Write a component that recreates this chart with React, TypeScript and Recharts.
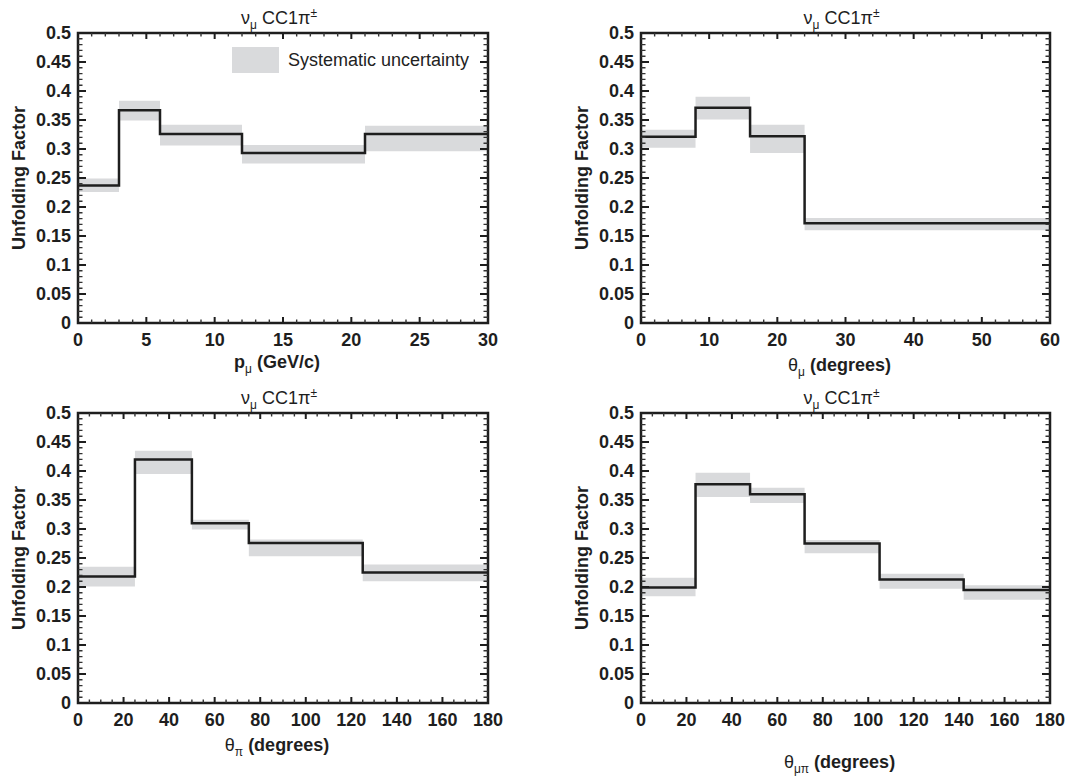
import { ComposedChart, Area, Line, XAxis, YAxis, Legend, ReferenceArea } from 'recharts'

const FONT = '"Liberation Sans", Arial, Helvetica, sans-serif'
const INK = '#1e1e1e'
const BAND = '#d9dadc'

// p_mu (GeV/c)
const pMuEdges = [0, 3, 6, 12, 21, 30]
const pMuFactor = [0.237, 0.367, 0.326, 0.293, 0.326]
const pMuLow = [0.226, 0.349, 0.306, 0.275, 0.296]
const pMuHigh = [0.249, 0.383, 0.342, 0.307, 0.34]
const pMuTicks = [0, 5, 10, 15, 20, 25, 30]

// theta_mu (degrees)
const thMuEdges = [0, 8, 16, 24, 60]
const thMuFactor = [0.321, 0.371, 0.322, 0.172]
const thMuLow = [0.302, 0.351, 0.293, 0.16]
const thMuHigh = [0.333, 0.39, 0.342, 0.181]
const thMuTicks = [0, 10, 20, 30, 40, 50, 60]

// theta_pi (degrees)
const thPiEdges = [0, 25, 50, 75, 125, 180]
const thPiFactor = [0.218, 0.42, 0.31, 0.276, 0.225]
const thPiLow = [0.201, 0.395, 0.299, 0.253, 0.21]
const thPiHigh = [0.235, 0.435, 0.316, 0.282, 0.239]

// theta_mupi (degrees)
const thMuPiEdges = [0, 24, 48, 72, 105, 142, 180]
const thMuPiFactor = [0.199, 0.377, 0.36, 0.275, 0.213, 0.195]
const thMuPiLow = [0.184, 0.355, 0.345, 0.258, 0.197, 0.178]
const thMuPiHigh = [0.216, 0.397, 0.371, 0.281, 0.223, 0.203]

const angleTicks = [0, 20, 40, 60, 80, 100, 120, 140, 160, 180]

const yTicks = [0, 0.05, 0.1, 0.15, 0.2, 0.25, 0.3, 0.35, 0.4, 0.45, 0.5]
const yTickLabels = ['0', '0.05', '0.1', '0.15', '0.2', '0.25', '0.3', '0.35', '0.4', '0.45', '0.5']

const steps = (max: number, step: number) => {
  const out: number[] = []
  for (let i = 0; i * step <= max + 1e-9; i++) out.push(Math.round(i * step * 1000) / 1000)
  return out
}

// inward ROOT-style ticks on both opposite edges: long for labelled values, short in between
const xTick = (majors: number[], labels: string[], plotH: number) => (props: any) => {
  const x = Number(props.x)
  const y = Number(props.y)
  const idx = majors.findIndex((m) => Math.abs(m - props.payload?.value) < 1e-6)
  const major = idx >= 0
  const len = major ? 6 : 3.5
  const yt = y - plotH
  return (
    <g>
      <path
        d={`M${x},${y}L${x},${y - len}M${x},${yt}L${x},${yt + len}`}
        stroke={major ? INK : '#333'}
        strokeWidth={major ? 2 : 1.4}
        fill="none"
      />
      {major && (
        <text x={x} y={y + 23} textAnchor="middle" fontFamily={FONT} fontWeight="bold" fontSize={18} fill={INK}>
          {labels[idx]}
        </text>
      )}
    </g>
  )
}

const yTick = (plotW: number) => (props: any) => {
  const x = Number(props.x)
  const y = Number(props.y)
  const idx = yTicks.findIndex((m) => Math.abs(m - props.payload?.value) < 1e-6)
  const major = idx >= 0
  const len = major ? 8 : 4.5
  const xr = x + plotW
  return (
    <g>
      <path
        d={`M${x},${y}L${x + len},${y}M${xr},${y}L${xr - len},${y}`}
        stroke={major ? INK : '#333'}
        strokeWidth={major ? 2 : 1.4}
        fill="none"
      />
      {major && (
        <text x={x - 7} y={y} textAnchor="end" dominantBaseline="central" fontFamily={FONT} fontWeight="bold" fontSize={18} fill={INK}>
          {yTickLabels[idx]}
        </text>
      )}
    </g>
  )
}

function LegendBox(props: any) {
  const items = (props.payload || []).filter((p: any) => p.type !== 'none')
  return (
    <div>
      {items.map((p: any) => (
        <div key={p.value} style={{ display: 'flex', alignItems: 'center', fontFamily: FONT, fontSize: 18, color: '#222' }}>
          <span style={{ display: 'inline-block', width: 47, height: 26, background: BAND, marginRight: 9 }} />
          {p.value}
        </div>
      ))}
    </div>
  )
}

type PanelProps = {
  left: number
  top: number
  height: number
  margin: { top: number; right: number; bottom: number; left: number }
  edges: number[]
  factor: number[]
  low: number[]
  high: number[]
  xTicks: number[]
  minorStep: number
  xMain: string
  xSub: string
  xMainBold: boolean
  xRest: string
  xLabelDy: number
  legend?: boolean
}

const CHART_W = 546
const X_AXIS_H = 40
const Y_AXIS_W = 60

function Panel(p: PanelProps) {
  const data = p.edges.map((e, i) => {
    const k = Math.min(i, p.factor.length - 1)
    return { x: e, factor: p.factor[k], band: [p.low[k], p.high[k]] }
  })
  const xMax = p.xTicks[p.xTicks.length - 1]
  const xMinor = steps(xMax, p.minorStep)
  const yMinor = steps(0.5, 0.01)
  const xLabels = p.xTicks.map(String)
  const plotH = p.height - p.margin.top - p.margin.bottom - X_AXIS_H
  const plotW = CHART_W - p.margin.left - p.margin.right - Y_AXIS_W

  return (
    <div style={{ position: 'absolute', left: p.left, top: p.top }}>
      <ComposedChart width={CHART_W} height={p.height} data={data} margin={p.margin}>
        <Area
          dataKey="band"
          name="Systematic uncertainty"
          type="stepAfter"
          fill={BAND}
          fillOpacity={1}
          stroke="none"
          isAnimationActive={false}
        />
        <Line
          dataKey="factor"
          type="stepAfter"
          stroke={INK}
          strokeWidth={2.5}
          dot={false}
          activeDot={false}
          legendType="none"
          isAnimationActive={false}
        />
        <ReferenceArea x1={0} x2={xMax} y1={0} y2={0.5} fill="none" stroke={INK} strokeWidth={2.5} />
        <XAxis
          dataKey="x"
          type="number"
          domain={[0, xMax]}
          ticks={xMinor}
          interval={0}
          height={X_AXIS_H}
          tickSize={0}
          tickMargin={0}
          tickLine={false}
          axisLine={false}
          tick={xTick(p.xTicks, xLabels, plotH)}
          label={(lp: any) => {
            const vb = lp.viewBox
            const cx = vb.x + vb.width / 2 - 6
            const cy = vb.y + p.xLabelDy
            const tx = vb.x + vb.width / 2 - 4
            const ty = vb.y - plotH - 9
            return (
              <g>
                <text x={cx} y={cy} textAnchor="middle" fontFamily={FONT} fontSize={18} fill={INK}>
                  <tspan fontWeight={p.xMainBold ? 'bold' : 'normal'}>{p.xMain}</tspan>
                  <tspan dy={5} fontSize={12}>{p.xSub}</tspan>
                  <tspan dy={-5} fontWeight="bold">{p.xRest}</tspan>
                </text>
                <text x={tx} y={ty} textAnchor="middle" fontFamily={FONT} fontSize={18} fill={INK}>
                  <tspan>ν</tspan>
                  <tspan dy={5} fontSize={12}>μ</tspan>
                  <tspan dy={-5}> CC1π</tspan>
                  <tspan dy={-7} fontSize={12}>±</tspan>
                </text>
              </g>
            )
          }}
        />
        <YAxis
          type="number"
          domain={[0, 0.5]}
          ticks={yMinor}
          interval={0}
          width={Y_AXIS_W}
          tickSize={0}
          tickMargin={0}
          tickLine={false}
          axisLine={false}
          tick={yTick(plotW)}
          label={(lp: any) => {
            const vb = lp.viewBox
            const cx = vb.x + vb.width - 59
            const cy = vb.y + vb.height / 2
            return (
              <text
                x={cx}
                y={cy}
                transform={`rotate(-90 ${cx} ${cy})`}
                textAnchor="middle"
                dominantBaseline="central"
                fontFamily={FONT}
                fontWeight="bold"
                fontSize={18}
                fill={INK}
              >
                Unfolding Factor
              </text>
            )
          }}
        />
        {p.legend && (
          <Legend
            layout="vertical"
            align="center"
            verticalAlign="middle"
            wrapperStyle={{ left: 232, top: 47, width: 'auto' }}
            content={LegendBox}
          />
        )}
      </ComposedChart>
    </div>
  )
}

export default function App() {
  return (
    <div style={{ position: 'absolute', left: 0, top: 0, width: 1092, height: 776, background: '#fff' }}>
      <Panel
        left={0}
        top={0}
        height={388}
        margin={{ top: 33, right: 58, bottom: 25, left: 18 }}
        edges={pMuEdges}
        factor={pMuFactor}
        low={pMuLow}
        high={pMuHigh}
        xTicks={pMuTicks}
        minorStep={1}
        xMain="p"
        xMainBold
        xSub="μ"
        xRest=" (GeV/c)"
        xLabelDy={45}
        legend
      />
      <Panel
        left={546}
        top={0}
        height={388}
        margin={{ top: 33, right: 42, bottom: 25, left: 35 }}
        edges={thMuEdges}
        factor={thMuFactor}
        low={thMuLow}
        high={thMuHigh}
        xTicks={thMuTicks}
        minorStep={2}
        xMain="θ"
        xMainBold={false}
        xSub="μ"
        xRest=" (degrees)"
        xLabelDy={48}
      />
      <Panel
        left={0}
        top={370}
        height={406}
        margin={{ top: 43, right: 58, bottom: 33, left: 18 }}
        edges={thPiEdges}
        factor={thPiFactor}
        low={thPiLow}
        high={thPiHigh}
        xTicks={angleTicks}
        minorStep={5}
        xMain="θ"
        xMainBold={false}
        xSub="π"
        xRest=" (degrees)"
        xLabelDy={48}
      />
      <Panel
        left={546}
        top={370}
        height={406}
        margin={{ top: 43, right: 42, bottom: 33, left: 35 }}
        edges={thMuPiEdges}
        factor={thMuPiFactor}
        low={thMuPiLow}
        high={thMuPiHigh}
        xTicks={angleTicks}
        minorStep={5}
        xMain="θ"
        xMainBold={false}
        xSub="μπ"
        xRest=" (degrees)"
        xLabelDy={65}
      />
    </div>
  )
}
